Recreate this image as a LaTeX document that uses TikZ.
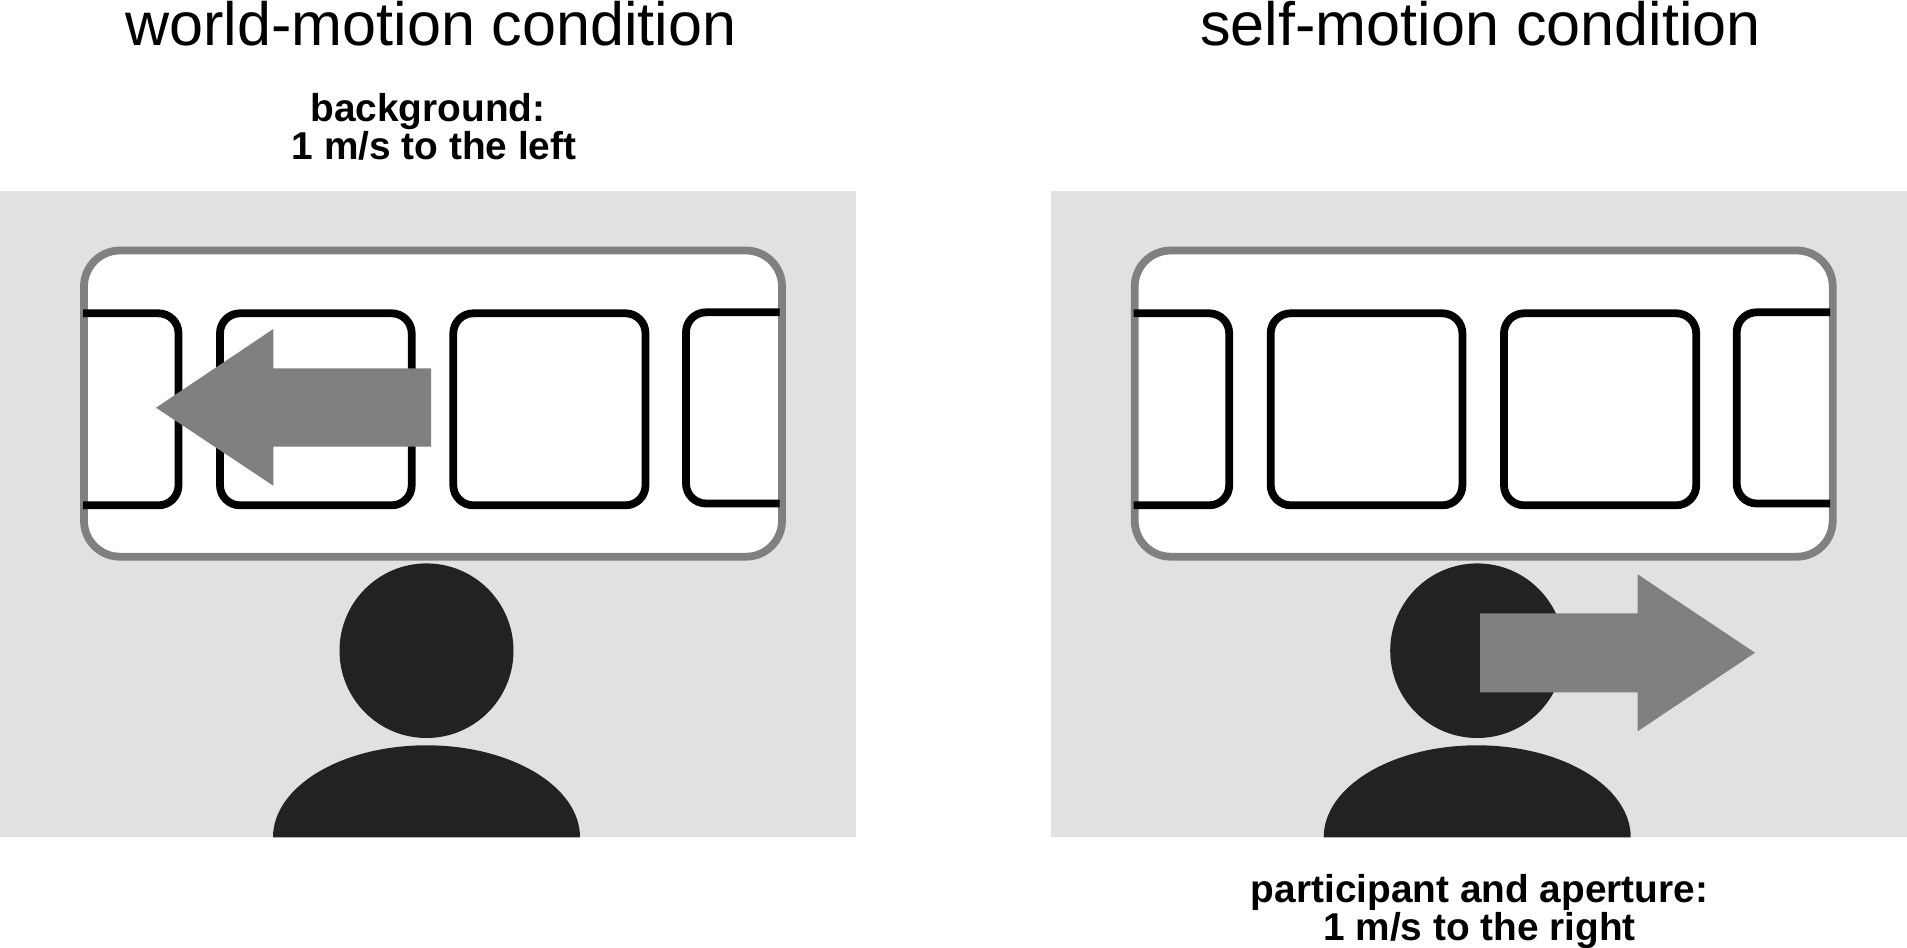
\documentclass[tikz,border=0pt]{standalone}
\usepackage{fontspec}
\setmainfont{Liberation Sans}
\definecolor{panelgray}{HTML}{E1E1E1}
\definecolor{midgray}{HTML}{808080}
\definecolor{figdark}{HTML}{222222}
\tikzset{
  titletext/.style={inner sep=0pt,anchor=base,font=\fontsize{30.55}{36}\selectfont},
  boldtext/.style={inner sep=0pt,anchor=center,align=center,font=\fontsize{19.4}{18.9}\selectfont\bfseries},
  panelbg/.style={fill=panelgray,draw=none},
  aperture/.style={fill=white,draw=midgray,line width=3.9pt,rounded corners=18pt},
  screenbox/.style={draw=black,line width=3.9pt,rounded corners=10pt},
  motionarrow/.style={fill=midgray,draw=none},
  figure part/.style={fill=figdark,draw=none}
}
\newcommand{\trialscene}{%
  \path[panelbg] (0,191) rectangle (856,837.3);
  \draw[aperture] (84,250.5) rectangle (782,556.7);
  \draw[screenbox] (83,313.3) -- (178.5,313.3) -- (178.5,505.3) -- (83,505.3);
  \draw[screenbox] (220,313.3) rectangle (411.7,505.3);
  \draw[screenbox] (453.3,313.3) rectangle (645.5,505.3);
  \draw[screenbox] (779.5,312.3) -- (686,312.3) -- (686,503.5) -- (779.5,503.5);
  \path[figure part] (426.5,650.7) circle[x radius=87,y radius=87.3];
  \path[figure part] (273,837.3) arc[start angle=180,end angle=0,x radius=153.5,y radius=-92] -- cycle;
}
\begin{document}
\begin{tikzpicture}[x=0.5pt,y=-0.5pt]
\useasboundingbox (0,0) rectangle (1907,948);
\begin{scope}
  \trialscene
  \path[motionarrow] (156,407.7) -- (273.3,329) -- (273.3,368.3) -- (431,368.3) -- (431,446.7) -- (273.3,446.7) -- (273.3,485.7) -- cycle;
\end{scope}
\begin{scope}[shift={(1050.7,0)}]
  \trialscene
\end{scope}
\path[motionarrow] (1755,652.7) -- (1637.6,574.3) -- (1637.6,613.3) -- (1480,613.3) -- (1480,692.3) -- (1637.6,692.3) -- (1637.6,731.3) -- cycle;
\node[titletext] (tleft) at (431,45) {world-motion condition};
\node[titletext] (tright) at (1480.5,45) {self-motion condition};
\node[boldtext] (bleft) at (434,126.5) {background:\hspace*{6pt}\\1 m/s to the left};
\node[boldtext] (bright) at (1479.5,911.5) {participant and aperture:\\1 m/s to the right};
\end{tikzpicture}
\end{document}
